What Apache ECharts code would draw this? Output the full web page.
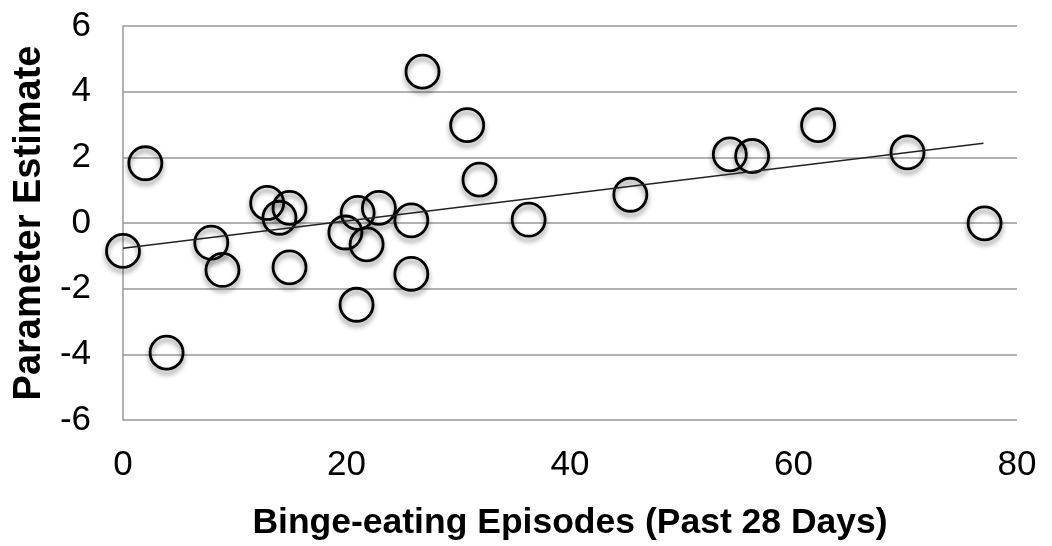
<!DOCTYPE html>
<html>
<head>
<meta charset="utf-8">
<script src="https://cdn.jsdelivr.net/npm/echarts@6/dist/echarts.min.js"></script>
<style>html,body{margin:0;padding:0;background:#fff;}#c{width:1052px;height:546px;}</style>
</head>
<body>
<div id="c"></div>
<script>
// Binge-eating episodes (x) and parameter estimate (y)
const episodes = [0, 2, 3.9, 7.9, 8.9, 12.9, 14.0, 14.9, 14.9, 19.9, 20.9, 21.0, 21.8, 22.9, 25.8, 25.8, 26.8, 30.8, 31.9, 36.3, 45.4, 54.3, 56.3, 62.2, 70.2, 77.1];
const estimates = [-0.85, 1.82, -3.95, -0.6, -1.43, 0.61, 0.16, 0.46, -1.35, -0.29, -2.49, 0.31, -0.65, 0.46, 0.08, -1.55, 4.61, 2.98, 1.32, 0.1, 0.86, 2.09, 2.04, 2.98, 2.15, -0.01];
const trendX = [0, 77];
const trendY = [-0.77, 2.43];
const xTicks = [0, 20, 40, 60, 80];
const yTicks = [-6, -4, -2, 0, 2, 4, 6];

const points = episodes.map((x, i) => [x, estimates[i]]);
const trend = trendX.map((x, i) => [x, trendY[i]]);

const chart = echarts.init(document.getElementById('c'), null, {renderer: 'canvas'});
const font = 'Liberation Sans, Arial, sans-serif';
chart.setOption({
  animation: false,
  backgroundColor: '#fff',
  grid: {left: 123, right: 35, top: 26, bottom: 123, containLabel: false},
  xAxis: {
    type: 'value', min: xTicks[0], max: xTicks[xTicks.length - 1], interval: 20,
    name: 'Binge-eating Episodes (Past 28 Days)', nameLocation: 'middle', nameGap: 85,
    nameTextStyle: {fontFamily: font, fontSize: 35.5, fontWeight: 'bold', color: '#000'},
    axisLine: {show: false}, axisTick: {show: false},
    splitLine: {show: false},
    axisLabel: {fontFamily: font, fontSize: 35, color: '#000', margin: 28}
  },
  yAxis: {
    type: 'value', min: yTicks[0], max: yTicks[yTicks.length - 1], interval: 2,
    name: 'Parameter Estimate', nameLocation: 'middle', nameGap: 73,
    nameTextStyle: {fontFamily: font, fontSize: 38, fontWeight: 'bold', color: '#000'},
    axisLine: {show: true, lineStyle: {color: '#999', width: 1.5}}, axisTick: {show: false},
    splitLine: {show: true, lineStyle: {color: '#999', width: 1.5}},
    axisLabel: {fontFamily: font, fontSize: 35, color: '#000', margin: 32}
  },
  series: [
    {
      type: 'scatter', data: points, symbol: 'circle', symbolSize: 33,
      itemStyle: {color: 'rgba(255,255,255,0)', borderColor: '#000', borderWidth: 2.8,
        shadowColor: 'rgba(0,0,0,0.45)', shadowBlur: 5, shadowOffsetY: 4, opacity: 1},
      z: 2
    },
    {
      type: 'line', data: trend, showSymbol: false, symbol: 'none',
      lineStyle: {color: '#222', width: 1.5}, z: 3
    }
  ]
});
</script>
</body>
</html>
